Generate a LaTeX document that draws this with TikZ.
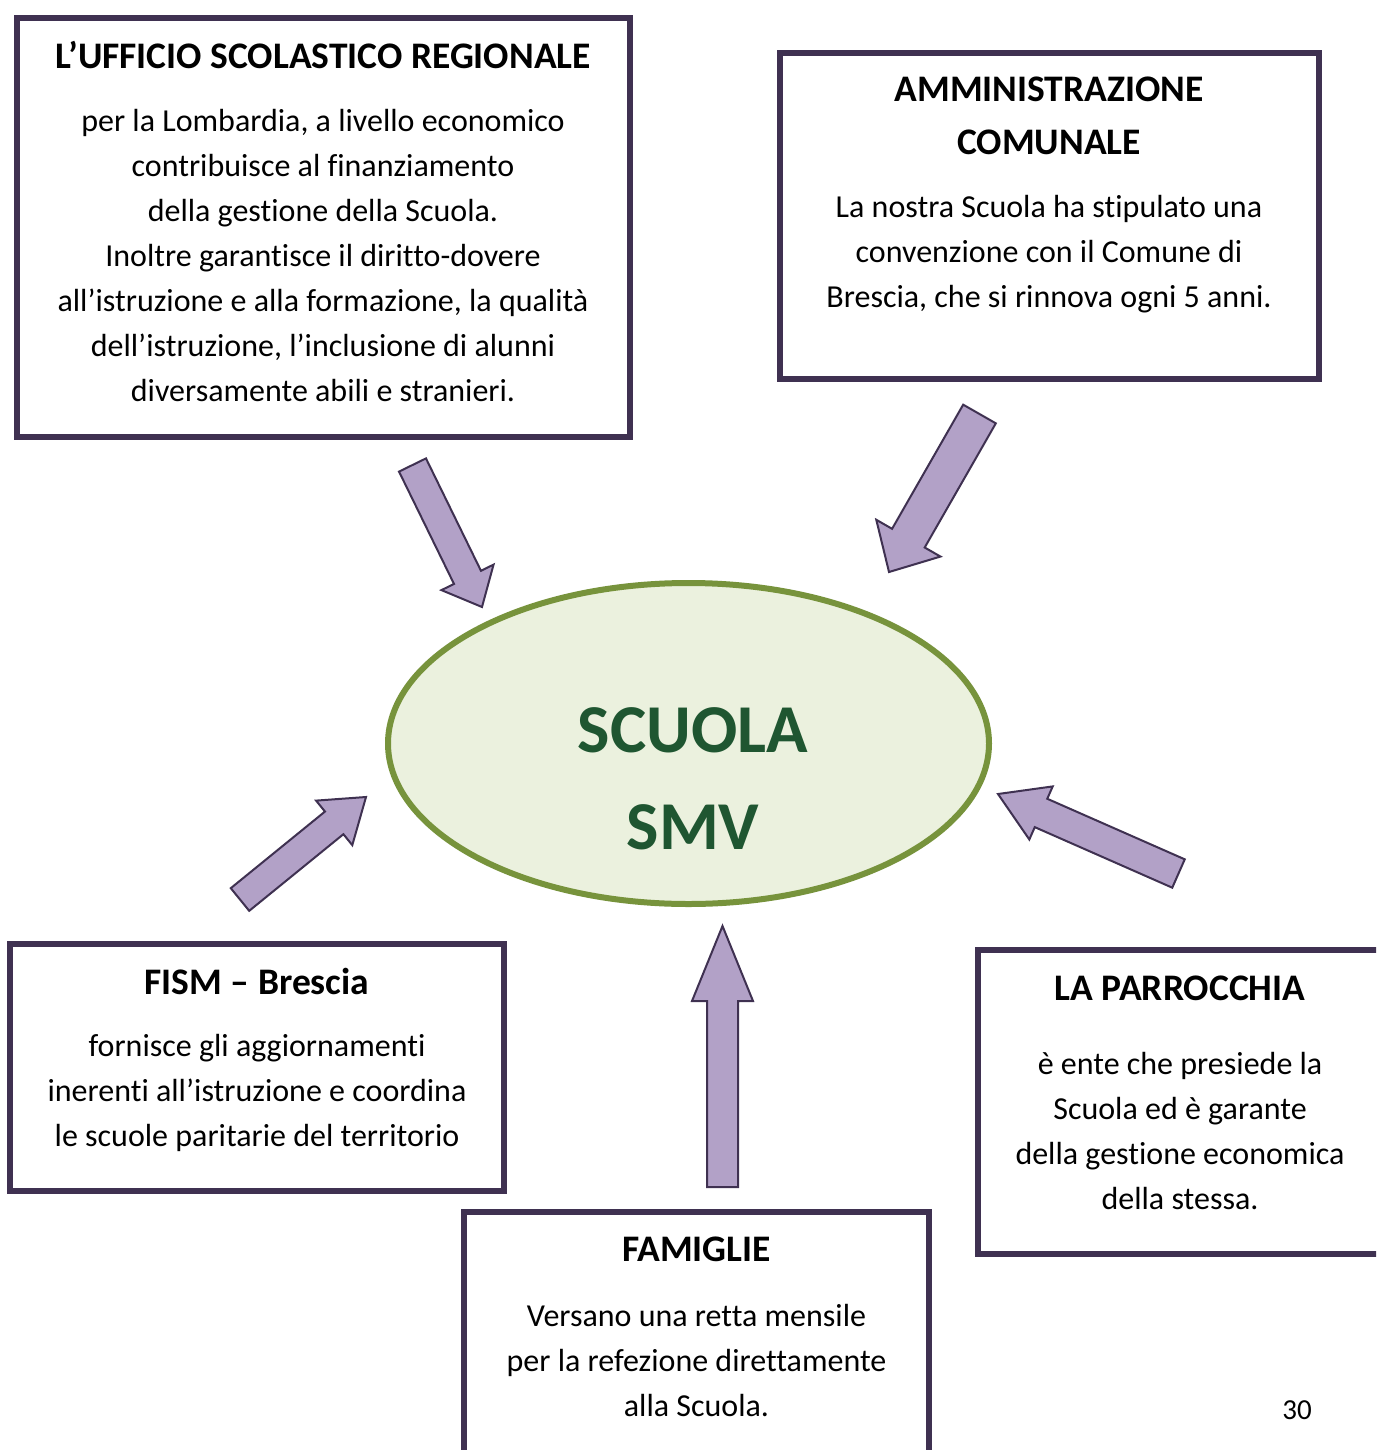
\documentclass[tikz,border=0pt]{standalone}
\usepackage{fontspec}
\setmainfont{Carlito}[Ligatures={TeX,NoCommon}]
\usetikzlibrary{calc, positioning, shapes.geometric}

\definecolor{framepurple}{HTML}{3F3151}
\definecolor{arrowlilac}{HTML}{B2A1C7}
\definecolor{ovalgreen}{HTML}{77933C}
\definecolor{ovalfill}{HTML}{EBF1DE}
\definecolor{schoolgreen}{HTML}{1F5631}

% fat arrow: tail, tip, half shaft, half head, head length
\newcommand{\fatarrow}[5]{%
  \path ($(#2)!#5!(#1)$) coordinate (hb);
  \draw[blockarrow] ($(#1)!#3!90:(#2)$) -- ($(hb)!#3!90:(#2)$) -- ($(hb)!#4!90:(#2)$)
    -- (#2) -- ($(hb)!#4!-90:(#2)$) -- ($(hb)!#3!-90:(#2)$) -- ($(#1)!#3!-90:(#2)$) -- cycle;}

\begin{document}
\begin{tikzpicture}[x=1pt, y=-1pt,
    panel/.style={rectangle, draw=framepurple, line width=6pt, fill=white},
    head/.style={font=\fontsize{37.5}{53}\selectfont\bfseries, align=center, inner sep=0pt},
    body/.style={font=\fontsize{32}{45}\selectfont, align=center, inner sep=0pt},
    blockarrow/.style={draw=framepurple, fill=arrowlilac, line width=2pt, line join=miter},
    school/.style={ellipse, draw=ovalgreen, fill=ovalfill, line width=6pt}
]
\useasboundingbox (0,0) rectangle (1376,1450);
\clip (0,0) rectangle (1376,1450);

% Centre
\node[school, minimum width=601pt, minimum height=321pt] (smv) at (688.5,743.5) {};
\node[font=\fontsize{68.5}{97}\selectfont\bfseries, text=schoolgreen, align=center, inner sep=0pt]
  (smvtext) at (693,779) {SCUOLA\\SMV};

% Boxes
\node[panel, minimum width=613pt, minimum height=419pt] (usr) at (323.5,227.5) {};
\node[head] (usrhead) at (323,55) {L’UFFICIO SCOLASTICO REGIONALE};
\node[body] (usrbody) at (323,256) {per la Lombardia, a livello economico\\
  contribuisce al finanziamento\\della gestione della Scuola.\\
  Inoltre garantisce il diritto-dovere\\all’istruzione e alla formazione, la qualità\\
  dell’istruzione, l’inclusione di alunni\\diversamente abili e stranieri.};

\node[panel, minimum width=539pt, minimum height=326pt] (comune) at (1049.5,216) {};
\node[head] (comunehead) at (1049,116) {AMMINISTRAZIONE\\COMUNALE};
\node[body] (comunebody) at (1049,254.5) {La nostra Scuola ha stipulato una\\
  convenzione con il Comune di\\Brescia, che si rinnova ogni 5 anni.};

\node[panel, minimum width=494pt, minimum height=247pt] (fism) at (257,1067.5) {};
\node[head] (fismhead) at (257,981) {FISM – Brescia};
\node[body] (fismbody) at (257,1093) {fornisce gli aggiornamenti\\
  inerenti all’istruzione e coordina\\le scuole paritarie del territorio};

\node[panel, minimum width=404pt, minimum height=304pt] (parr) at (1180,1102) {};
\node[head] (parrhead) at (1180,988) {LA PARROCCHIA};
\node[body] (parrbody) at (1180,1131) {è ente che presiede la\\Scuola ed è garante\\
  della gestione economica\\della stessa.};

\node[panel, minimum width=465pt, minimum height=308pt] (fam) at (696.5,1366) {};
\node[head] (famhead) at (696.5,1249) {FAMIGLIE};
\node[body] (fambody) at (696.5,1360) {Versano una retta mensile\\
  per la refezione direttamente\\alla Scuola.};

\node[font=\fontsize{29}{34}\selectfont, inner sep=0pt] (pagenum) at (1297,1410) {30};

% Arrows
\coordinate (usrtail) at (412.5,465);   \coordinate (usrtip) at (482,607);
\coordinate (comunetail) at (979.5,414); \coordinate (comunetip) at (889,572);
\coordinate (famtail) at (722.5,1187);  \coordinate (famtip) at (722.5,926);
\coordinate (parrtail) at (1178.5,873.5); \coordinate (parrtip) at (998,794);
\coordinate (fismtail) at (240,899.5);  \coordinate (fismtip) at (366,797);

\fatarrow{usrtail}{usrtip}{15pt}{29pt}{33pt}
\fatarrow{comunetail}{comunetip}{18.8pt}{37pt}{39pt}
\fatarrow{famtail}{famtip}{15.5pt}{30.5pt}{75pt}
\fatarrow{parrtail}{parrtip}{15.5pt}{29pt}{47pt}
\fatarrow{fismtail}{fismtip}{14.6pt}{28.7pt}{41pt}

\end{tikzpicture}
\end{document}
